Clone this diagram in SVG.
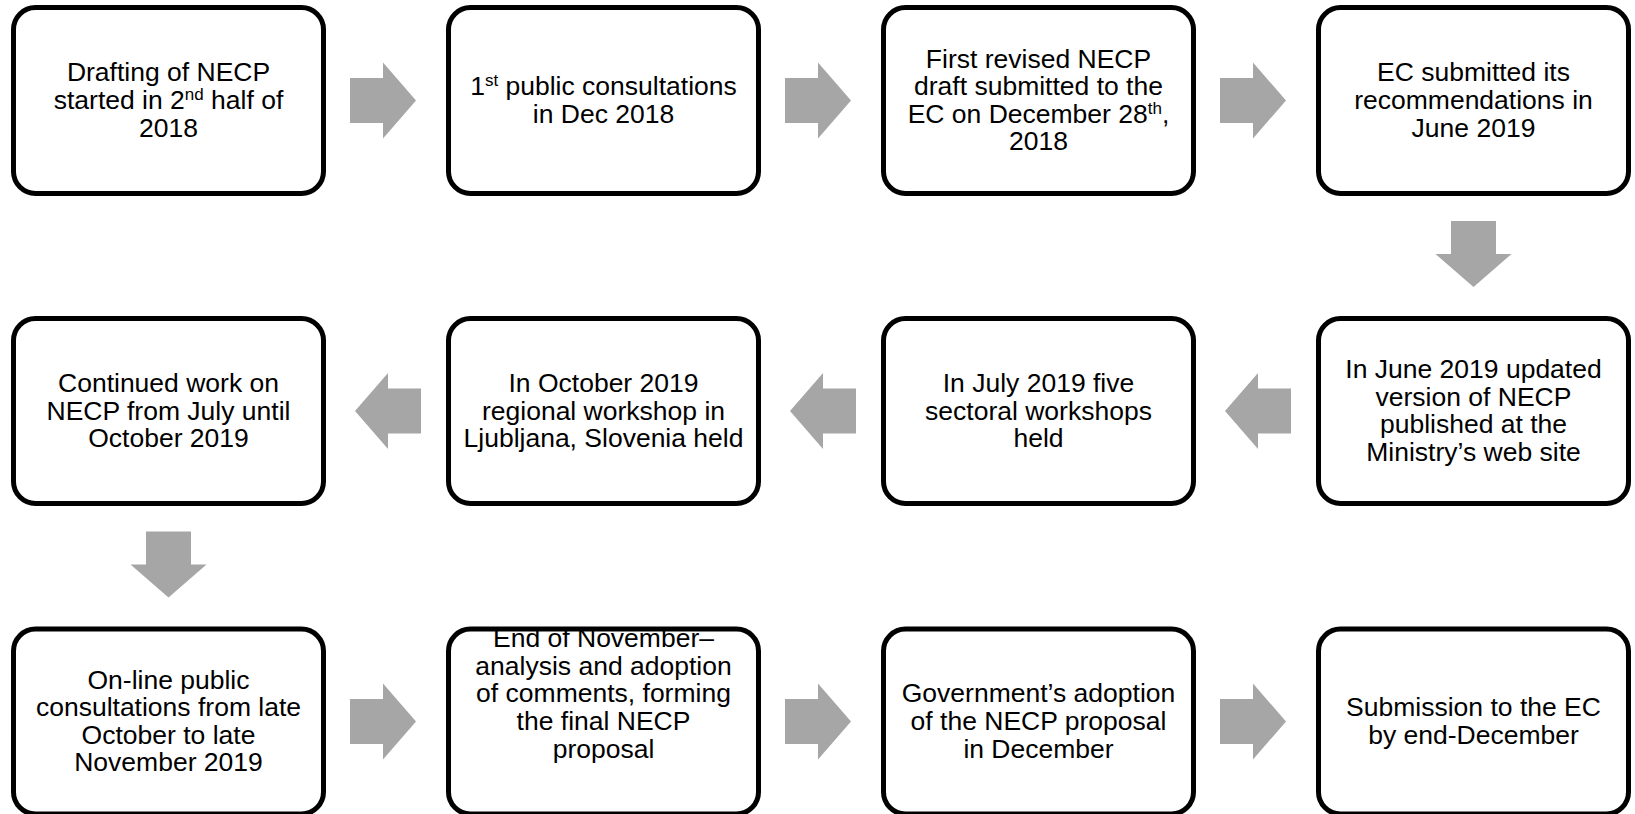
<svg xmlns="http://www.w3.org/2000/svg" width="1635" height="814" viewBox="0 0 1635 814">
<style>
.box{fill:#fff;stroke:#000;stroke-width:5}
.arr{fill:#A6A6A6}
.t{font-family:"Liberation Sans",Arial,sans-serif;font-size:26.5px;fill:#000;text-anchor:middle}
.sup{font-size:17px}
</style>
<defs>
<path id="ar" d="M0,-22.5 H33 V-38 L66,0 L33,38 V22.5 H0 Z"/>
</defs>
<rect width="1635" height="814" fill="#fff"/>
<g id="connectors" class="arr">
<use href="#ar" transform="translate(350,100.5)"/>
<use href="#ar" transform="translate(785,100.5)"/>
<use href="#ar" transform="translate(1220,100.5)"/>
<use href="#ar" transform="translate(1473.5,221) rotate(90)"/>
<use href="#ar" transform="translate(1291,411) scale(-1,1)"/>
<use href="#ar" transform="translate(856,411) scale(-1,1)"/>
<use href="#ar" transform="translate(421,411) scale(-1,1)"/>
<use href="#ar" transform="translate(168.5,531.5) rotate(90)"/>
<use href="#ar" transform="translate(350,721.5)"/>
<use href="#ar" transform="translate(785,721.5)"/>
<use href="#ar" transform="translate(1220,721.5)"/>
</g>
<g id="n1"><rect class="box" x="13.5" y="7.5" width="310" height="186" rx="22"/>
<text class="t"><tspan x="168.5" y="81.4">Drafting of NECP</tspan><tspan x="168.5" y="109">started in 2<tspan class="sup" baseline-shift="super">nd</tspan> half of</tspan><tspan x="168.5" y="136.6">2018</tspan></text></g>
<g id="n2"><rect class="box" x="448.5" y="7.5" width="310" height="186" rx="22"/>
<text class="t"><tspan x="603.5" y="95.2">1<tspan class="sup" baseline-shift="super">st</tspan> public consultations</tspan><tspan x="603.5" y="122.8">in Dec 2018</tspan></text></g>
<g id="n3"><rect class="box" x="883.5" y="7.5" width="310" height="186" rx="22"/>
<text class="t"><tspan x="1038.5" y="67.6">First revised NECP</tspan><tspan x="1038.5" y="95.2">draft submitted to the</tspan><tspan x="1038.5" y="122.8">EC on December 28<tspan class="sup" baseline-shift="super">th</tspan>,</tspan><tspan x="1038.5" y="150.4">2018</tspan></text></g>
<g id="n4"><rect class="box" x="1318.5" y="7.5" width="310" height="186" rx="22"/>
<text class="t"><tspan x="1473.5" y="81.4">EC submitted its</tspan><tspan x="1473.5" y="109">recommendations in</tspan><tspan x="1473.5" y="136.6">June 2019</tspan></text></g>
<g id="n5"><rect class="box" x="1318.5" y="318.5" width="310" height="185" rx="22"/>
<text class="t"><tspan x="1473.5" y="378.1">In June 2019 updated</tspan><tspan x="1473.5" y="405.7">version of NECP</tspan><tspan x="1473.5" y="433.3">published at the</tspan><tspan x="1473.5" y="460.9">Ministry’s web site</tspan></text></g>
<g id="n6"><rect class="box" x="883.5" y="318.5" width="310" height="185" rx="22"/>
<text class="t"><tspan x="1038.5" y="391.9">In July 2019 five</tspan><tspan x="1038.5" y="419.5">sectoral workshops</tspan><tspan x="1038.5" y="447.1">held</tspan></text></g>
<g id="n7"><rect class="box" x="448.5" y="318.5" width="310" height="185" rx="22"/>
<text class="t"><tspan x="603.5" y="391.9">In October 2019</tspan><tspan x="603.5" y="419.5">regional workshop in</tspan><tspan x="603.5" y="447.1">Ljubljana, Slovenia held</tspan></text></g>
<g id="n8"><rect class="box" x="13.5" y="318.5" width="310" height="185" rx="22"/>
<text class="t"><tspan x="168.5" y="391.9">Continued work on</tspan><tspan x="168.5" y="419.5">NECP from July until</tspan><tspan x="168.5" y="447.1">October 2019</tspan></text></g>
<g id="n9"><rect class="box" x="13.5" y="629" width="310" height="185" rx="22"/>
<text class="t"><tspan x="168.5" y="688.6">On-line public</tspan><tspan x="168.5" y="716.2">consultations from late</tspan><tspan x="168.5" y="743.8">October to late</tspan><tspan x="168.5" y="771.4">November 2019</tspan></text></g>
<g id="n10"><rect class="box" x="448.5" y="629" width="310" height="185" rx="22"/>
<text class="t"><tspan x="603.5" y="647.2">End of November–</tspan><tspan x="603.5" y="674.8">analysis and adoption</tspan><tspan x="603.5" y="702.4">of comments, forming</tspan><tspan x="603.5" y="730">the final NECP</tspan><tspan x="603.5" y="757.6">proposal</tspan></text></g>
<g id="n11"><rect class="box" x="883.5" y="629" width="310" height="185" rx="22"/>
<text class="t"><tspan x="1038.5" y="702.4">Government’s adoption</tspan><tspan x="1038.5" y="730">of the NECP proposal</tspan><tspan x="1038.5" y="757.6">in December</tspan></text></g>
<g id="n12"><rect class="box" x="1318.5" y="629" width="310" height="185" rx="22"/>
<text class="t"><tspan x="1473.5" y="716.2">Submission to the EC</tspan><tspan x="1473.5" y="743.8">by end-December</tspan></text></g>
</svg>
